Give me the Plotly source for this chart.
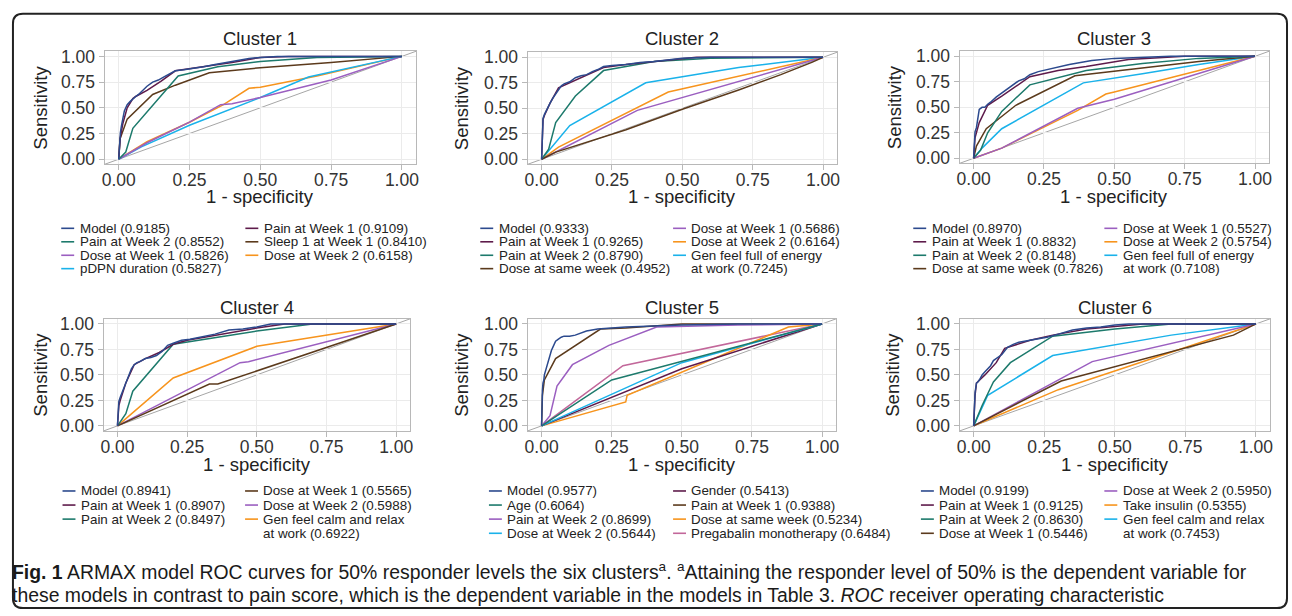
import plotly.graph_objects as go

# ---------------- DATA ----------------
TICKS = [0, 0.25, 0.5, 0.75, 1.0]
TICK_TEXT = ["0.00", "0.25", "0.50", "0.75", "1.00"]
CLUSTER_TITLES = ["Cluster 1", "Cluster 2", "Cluster 3", "Cluster 4", "Cluster 5", "Cluster 6"]

BLUE, MAROON, TEAL, BROWN = "#2C4A8E", "#5E1B4B", "#1D7A6C", "#5B3A1C"
PURPLE, ORANGE, LIGHTBLUE, PINK = "#9B5FC0", "#F7941D", "#1AB2EA", "#C2679A"

# Cluster 1
C1_NAMES = ["Model (0.9185)", "Pain at Week 2 (0.8552)", "Dose at Week 1 (0.5826)", "pDPN duration (0.5827)",
            "Pain at Week 1 (0.9109)", "Sleep 1 at Week 1 (0.8410)", "Dose at Week 2 (0.6158)"]
C1_COLORS = [BLUE, TEAL, PURPLE, LIGHTBLUE, MAROON, BROWN, ORANGE]
C1_COL1 = 4
C1_FPR = [
    [0, 0.003, 0.006, 0.01, 0.015, 0.02, 0.025, 0.03, 0.04, 0.05, 0.06, 0.07, 0.08, 0.09, 0.10, 0.12, 0.14, 0.16, 0.18, 0.20, 0.23, 0.26, 0.30, 0.34, 0.38, 0.42, 0.46, 0.50, 0.56, 1.0],
    [0, 0.025, 0.05, 0.21, 0.35, 0.5, 0.7, 1],
    [0, 0.1, 0.25, 0.36, 0.4, 0.5, 0.75, 1],
    [0, 0.08, 0.25, 0.5, 0.67, 1],
    [0, 0.005, 0.015, 0.03, 0.05, 0.06, 0.1, 0.15, 0.2, 0.3, 0.4, 0.5, 0.6, 1],
    [0, 0.005, 0.03, 0.12, 0.2, 0.32, 0.5, 0.75, 1],
    [0, 0.1, 0.25, 0.37, 0.46, 0.5, 0.7, 1],
]
C1_TPR = [
    [0, 0.18, 0.26, 0.33, 0.42, 0.47, 0.5, 0.53, 0.56, 0.59, 0.61, 0.63, 0.66, 0.69, 0.71, 0.75, 0.77, 0.8, 0.83, 0.86, 0.87, 0.88, 0.9, 0.92, 0.94, 0.96, 0.98, 0.99, 1.0, 1.0],
    [0, 0.07, 0.3, 0.81, 0.9, 0.95, 0.99, 1],
    [0, 0.16, 0.36, 0.53, 0.54, 0.6, 0.77, 1],
    [0, 0.12, 0.33, 0.6, 0.8, 1],
    [0, 0.2, 0.35, 0.5, 0.59, 0.61, 0.67, 0.76, 0.86, 0.9, 0.94, 0.99, 1, 1],
    [0, 0.2, 0.39, 0.63, 0.72, 0.84, 0.89, 0.94, 1],
    [0, 0.17, 0.36, 0.53, 0.69, 0.7, 0.81, 1],
]

# Cluster 2
C2_NAMES = ["Model (0.9333)", "Pain at Week 1 (0.9265)", "Pain at Week 2 (0.8790)", "Dose at same week (0.4952)",
            "Dose at Week 1 (0.5686)", "Dose at Week 2 (0.6164)", "Gen feel full of energy<br>at work (0.7245)"]
C2_COLORS = [BLUE, MAROON, TEAL, BROWN, PURPLE, ORANGE, LIGHTBLUE]
C2_COL1 = 4
C2_FPR = [
    [0, 0.002, 0.005, 0.01, 0.015, 0.02, 0.03, 0.04, 0.05, 0.06, 0.07, 0.08, 0.1, 0.12, 0.14, 0.16, 0.18, 0.2, 0.22, 0.25, 0.3, 0.35, 0.4, 0.5, 0.6, 1],
    [0, 0.005, 0.01, 0.03, 0.06, 0.1, 0.15, 0.22, 0.3, 0.45, 0.55, 1],
    [0, 0.025, 0.05, 0.12, 0.22, 0.4, 0.6, 1],
    [0, 0.05, 0.3, 0.5, 0.7, 0.85, 0.96, 1],
    [0, 0.07, 0.34, 1],
    [0, 0.06, 0.45, 1],
    [0, 0.1, 0.37, 0.7, 1],
]
C2_TPR = [
    [0, 0.3, 0.4, 0.44, 0.47, 0.5, 0.55, 0.6, 0.64, 0.69, 0.72, 0.74, 0.76, 0.8, 0.82, 0.83, 0.86, 0.88, 0.91, 0.92, 0.93, 0.95, 0.96, 0.99, 1, 1],
    [0, 0.39, 0.43, 0.55, 0.7, 0.75, 0.81, 0.9, 0.93, 0.97, 1, 1],
    [0, 0.1, 0.36, 0.62, 0.87, 0.96, 0.99, 1],
    [0, 0.07, 0.29, 0.49, 0.68, 0.83, 0.95, 1],
    [0, 0.1, 0.48, 1],
    [0, 0.12, 0.66, 1],
    [0, 0.33, 0.75, 0.9, 1],
]

# Cluster 3
C3_NAMES = ["Model (0.8970)", "Pain at Week 1 (0.8832)", "Pain at Week 2 (0.8148)", "Dose at same week (0.7826)",
            "Dose at Week 1 (0.5527)", "Dose at Week 2 (0.5754)", "Gen feel full of energy<br>at work (0.7108)"]
C3_COLORS = [BLUE, MAROON, TEAL, BROWN, PURPLE, ORANGE, LIGHTBLUE]
C3_COL1 = 4
C3_FPR = [
    [0, 0.002, 0.005, 0.01, 0.015, 0.02, 0.03, 0.04, 0.05, 0.06, 0.08, 0.1, 0.12, 0.14, 0.16, 0.18, 0.2, 0.23, 0.26, 0.3, 0.34, 0.38, 0.42, 0.5, 0.6, 0.7, 1],
    [0, 0.005, 0.02, 0.05, 0.1, 0.2, 0.3, 0.4, 0.55, 0.75, 1],
    [0, 0.025, 0.05, 0.1, 0.2, 0.4, 0.6, 0.8, 1],
    [0, 0.01, 0.045, 0.15, 0.36, 0.55, 0.8, 1],
    [0, 0.1, 0.37, 0.5, 1],
    [0, 0.1, 0.37, 0.47, 0.5, 1],
    [0, 0.03, 0.1, 0.39, 0.6, 0.8, 1],
]
C3_TPR = [
    [0, 0.22, 0.26, 0.3, 0.4, 0.48, 0.5, 0.5, 0.53, 0.55, 0.6, 0.64, 0.68, 0.72, 0.76, 0.78, 0.82, 0.85, 0.87, 0.9, 0.92, 0.94, 0.96, 0.98, 0.99, 1, 1],
    [0, 0.2, 0.35, 0.52, 0.61, 0.8, 0.86, 0.9, 0.97, 1, 1],
    [0, 0.08, 0.25, 0.46, 0.72, 0.86, 0.93, 0.98, 1],
    [0, 0.12, 0.29, 0.52, 0.81, 0.87, 0.95, 1],
    [0, 0.1, 0.49, 0.58, 1],
    [0, 0.1, 0.47, 0.63, 0.65, 1],
    [0, 0.1, 0.29, 0.74, 0.83, 0.92, 1],
]

# Cluster 4
C4_NAMES = ["Model (0.8941)", "Pain at Week 1 (0.8907)", "Pain at Week 2 (0.8497)",
            "Dose at Week 1 (0.5565)", "Dose at Week 2 (0.5988)", "Gen feel calm and relax<br>at work (0.6922)"]
C4_COLORS = [BLUE, MAROON, TEAL, BROWN, PURPLE, ORANGE]
C4_COL1 = 3
C4_FPR = [
    [0, 0.002, 0.005, 0.01, 0.02, 0.03, 0.04, 0.05, 0.06, 0.07, 0.08, 0.1, 0.12, 0.14, 0.16, 0.18, 0.2, 0.23, 0.26, 0.3, 0.35, 0.4, 0.45, 0.5, 0.55, 1],
    [0, 0.005, 0.01, 0.03, 0.06, 0.1, 0.15, 0.2, 0.25, 0.35, 0.5, 0.6, 1],
    [0, 0.03, 0.055, 0.2, 0.5, 0.7, 1],
    [0, 0.33, 0.36, 1],
    [0, 0.2, 0.44, 0.47, 1],
    [0, 0.2, 0.5, 1],
]
C4_TPR = [
    [0, 0.2, 0.24, 0.28, 0.35, 0.44, 0.5, 0.56, 0.6, 0.62, 0.63, 0.66, 0.67, 0.69, 0.73, 0.79, 0.81, 0.84, 0.85, 0.87, 0.9, 0.94, 0.95, 0.97, 1, 1],
    [0, 0.2, 0.25, 0.42, 0.6, 0.66, 0.72, 0.8, 0.84, 0.89, 0.96, 1, 1],
    [0, 0.12, 0.34, 0.8, 0.93, 1, 1],
    [0, 0.41, 0.41, 1],
    [0, 0.28, 0.62, 0.63, 1],
    [0, 0.47, 0.78, 1],
]

# Cluster 5
C5_NAMES = ["Model (0.9577)", "Age (0.6064)", "Pain at Week 2 (0.8699)", "Dose at Week 2 (0.5644)",
            "Gender (0.5413)", "Pain at Week 1 (0.9388)", "Dose at same week (0.5234)", "Pregabalin monotherapy (0.6484)"]
C5_COLORS = [BLUE, TEAL, PURPLE, LIGHTBLUE, MAROON, BROWN, ORANGE, PINK]
C5_COL1 = 4
C5_FPR = [
    [0, 0.001, 0.003, 0.005, 0.008, 0.01, 0.015, 0.02, 0.025, 0.03, 0.035, 0.04, 0.045, 0.05, 0.06, 0.07, 0.08, 0.1, 0.12, 0.14, 0.16, 0.2, 0.25, 0.3, 0.4, 0.5, 0.7, 1],
    [0, 0.25, 1],
    [0, 0.03, 0.055, 0.11, 0.24, 0.41, 0.7, 1],
    [0, 0.49, 0.5, 1],
    [0, 0.5, 1],
    [0, 0.003, 0.01, 0.05, 0.21, 0.3, 0.5, 1],
    [0, 0.1, 0.3, 0.305, 0.88, 0.92, 1],
    [0, 0.29, 1],
]
C5_TPR = [
    [0, 0.25, 0.35, 0.42, 0.45, 0.5, 0.55, 0.6, 0.65, 0.7, 0.74, 0.77, 0.8, 0.83, 0.85, 0.87, 0.88, 0.88, 0.89, 0.91, 0.93, 0.95, 0.96, 0.97, 0.98, 0.99, 1, 1],
    [0, 0.45, 1],
    [0, 0.1, 0.39, 0.6, 0.79, 0.97, 0.99, 1],
    [0, 0.6, 0.62, 1],
    [0, 0.56, 1],
    [0, 0.3, 0.45, 0.66, 0.95, 0.96, 1, 1],
    [0, 0.08, 0.235, 0.3, 0.97, 0.98, 1],
    [0, 0.59, 1],
]

# Cluster 6
C6_NAMES = ["Model (0.9199)", "Pain at Week 1 (0.9125)", "Pain at Week 2 (0.8630)", "Dose at Week 1 (0.5446)",
            "Dose at Week 2 (0.5950)", "Take insulin (0.5355)", "Gen feel calm and relax<br>at work (0.7453)"]
C6_COLORS = [BLUE, MAROON, TEAL, BROWN, PURPLE, ORANGE, LIGHTBLUE]
C6_COL1 = 4
C6_FPR = [
    [0, 0.002, 0.005, 0.01, 0.015, 0.02, 0.03, 0.04, 0.05, 0.06, 0.07, 0.08, 0.09, 0.1, 0.12, 0.14, 0.16, 0.18, 0.2, 0.23, 0.26, 0.3, 0.35, 0.4, 0.45, 0.5, 0.55, 1],
    [0, 0.005, 0.01, 0.04, 0.08, 0.11, 0.2, 0.28, 0.4, 0.6, 1],
    [0, 0.03, 0.07, 0.13, 0.28, 0.5, 0.7, 1],
    [0, 0.31, 0.92, 1],
    [0, 0.42, 1],
    [0, 0.3, 1],
    [0, 0.05, 0.28, 0.7, 1],
]
C6_TPR = [
    [0, 0.25, 0.33, 0.42, 0.43, 0.45, 0.5, 0.53, 0.56, 0.59, 0.64, 0.66, 0.68, 0.7, 0.77, 0.8, 0.82, 0.83, 0.84, 0.85, 0.87, 0.9, 0.94, 0.96, 0.97, 0.99, 1, 1],
    [0, 0.3, 0.42, 0.5, 0.62, 0.76, 0.84, 0.89, 0.95, 1, 1],
    [0, 0.2, 0.43, 0.62, 0.88, 0.95, 1, 1],
    [0, 0.44, 0.89, 1],
    [0, 0.63, 1],
    [0, 0.355, 1],
    [0, 0.3, 0.69, 0.89, 1],
]

CAPTION_LINE1 = ("<b>Fig. 1</b> ARMAX model ROC curves for 50% responder levels the six clusters<sup>a</sup>. "
                 "<sup>a</sup>Attaining the responder level of 50% is the dependent variable for")
CAPTION_LINE2 = ("these models in contrast to pain score, which is the dependent variable in the models in Table 3. "
                 "<i>ROC</i> receiver operating characteristic")

CLUSTERS = [
    (C1_NAMES, C1_COLORS, C1_COL1, C1_FPR, C1_TPR),
    (C2_NAMES, C2_COLORS, C2_COL1, C2_FPR, C2_TPR),
    (C3_NAMES, C3_COLORS, C3_COL1, C3_FPR, C3_TPR),
    (C4_NAMES, C4_COLORS, C4_COL1, C4_FPR, C4_TPR),
    (C5_NAMES, C5_COLORS, C5_COL1, C5_FPR, C5_TPR),
    (C6_NAMES, C6_COLORS, C6_COL1, C6_FPR, C6_TPR),
]

# ---------------- LAYOUT (pixels) ----------------
W, H = 1292, 616
FONT = "Liberation Sans, Arial, Helvetica, sans-serif"
TXT = "#333333"


def PX(x):
    return x / W


def PY(y):
    return 1 - y / H


# plot frames: (left, right, top, bottom)
FRAMES = [(102, 415, 47, 162), (527, 838, 48, 162), (961, 1272, 47, 161),
          (101, 409, 319, 433), (527, 837, 319, 433), (961, 1273, 319, 433)]
TITLE_Y = [34, 34, 34, 307, 307, 307]
XTITLE_Y = [194.5, 194.5, 194.5, 467, 467, 467]
YTITLE_X = [38, 460, 895, 38, 461, 894]
LEG_ROWS = [[227, 240.7, 254.4, 268]] * 3 + [[494, 508.3, 522.6, 537]] * 3
LEG_TEXT_X = [(77, 262), (498, 691.7), (933, 1125), (78.3, 261.7), (506.7, 691.7), (940.7, 1125)]

fig = go.Figure()
layout = dict(
    width=W, height=H, margin=dict(l=0, r=0, t=0, b=0),
    paper_bgcolor="white", plot_bgcolor="white", showlegend=False,
    font=dict(family=FONT, color=TXT),
)
annotations = []
shapes = []

for i, (names, colors, ncol1, fprs, tprs) in enumerate(CLUSTERS):
    k = i + 1
    xa = "x" if k == 1 else f"x{k}"
    ya = "y" if k == 1 else f"y{k}"
    l, r, t, b = FRAMES[i]
    axis_common = dict(
        range=[-0.05, 1.05], tickvals=TICKS, ticktext=TICK_TEXT,
        showgrid=True, gridcolor="#EBEBEB", gridwidth=1, zeroline=False,
        showline=True, mirror=True, linecolor="#B8B8B8", linewidth=1,
        ticks="outside", ticklen=5, tickcolor="#B8B8B8", tickwidth=1,
        tickfont=dict(family=FONT, size=17.5, color=TXT), fixedrange=True,
    )
    layout["xaxis" if k == 1 else f"xaxis{k}"] = dict(axis_common, domain=[PX(l), PX(r)], anchor=ya,
                                                      ticklabelstandoff=-5)
    layout["yaxis" if k == 1 else f"yaxis{k}"] = dict(axis_common, domain=[PY(b), PY(t)], anchor=xa)

    # chance diagonal across the panel
    shapes.append(dict(type="line", xref=f"{xa} domain", yref=f"{ya} domain", x0=0, y0=0, x1=1, y1=1,
                       line=dict(color="#A6A6A6", width=1), layer="below"))

    # ROC curves (model drawn last, on top)
    for j in reversed(range(len(names))):
        fig.add_trace(go.Scatter(x=fprs[j], y=tprs[j], mode="lines", name=names[j].replace("<br>", " "),
                                 line=dict(color=colors[j], width=1.5), xaxis=xa, yaxis=ya,
                                 hoverinfo="name"))

    cx = (l + r) / 2
    annotations.append(dict(text=CLUSTER_TITLES[i], x=PX(cx), y=PY(TITLE_Y[i]), xref="paper", yref="paper",
                            showarrow=False, xanchor="center", yanchor="middle",
                            font=dict(family=FONT, size=18.5, color="#222222")))
    annotations.append(dict(text="1 - specificity", x=PX(cx), y=PY(XTITLE_Y[i]), xref="paper", yref="paper",
                            showarrow=False, xanchor="center", yanchor="middle",
                            font=dict(family=FONT, size=18.5, color="#222222")))
    annotations.append(dict(text="Sensitivity", x=PX(YTITLE_X[i]), y=PY((t + b) / 2), xref="paper", yref="paper",
                            showarrow=False, xanchor="center", yanchor="middle", textangle=-90,
                            font=dict(family=FONT, size=18.5, color="#222222")))

    # legend (two columns)
    rows = LEG_ROWS[i]
    for col in range(2):
        idxs = range(0, ncol1) if col == 0 else range(ncol1, len(names))
        tx = LEG_TEXT_X[i][col]
        row = 0
        for j in idxs:
            shapes.append(dict(type="line", xref="paper", yref="paper",
                               x0=PX(tx - 18.5), x1=PX(tx - 5.5), y0=PY(rows[row]), y1=PY(rows[row]),
                               line=dict(color=colors[j], width=1.6)))
            for part in names[j].split("<br>"):
                annotations.append(dict(text=part, x=PX(tx - 2), y=PY(rows[row]), xref="paper", yref="paper",
                                        showarrow=False, xanchor="left", yanchor="middle",
                                        font=dict(family=FONT, size=13.4, color="#222222")))
                row += 1

# caption
annotations.append(dict(text=CAPTION_LINE1, x=PX(7), y=PY(575), xref="paper", yref="paper", showarrow=False,
                        xanchor="left", yanchor="middle", font=dict(family=FONT, size=19.4, color="#1A1A1A")))
annotations.append(dict(text=CAPTION_LINE2, x=PX(7), y=PY(600), xref="paper", yref="paper", showarrow=False,
                        xanchor="left", yanchor="middle", font=dict(family=FONT, size=19.4, color="#1A1A1A")))

# rounded outer border
bl, br, bt, bb, rad = 10, 1290, 9, 613, 10
path = (f"M {PX(bl)},{PY(bt + rad)} Q {PX(bl)},{PY(bt)} {PX(bl + rad)},{PY(bt)} "
        f"L {PX(br - rad)},{PY(bt)} Q {PX(br)},{PY(bt)} {PX(br)},{PY(bt + rad)} "
        f"L {PX(br)},{PY(bb - rad)} Q {PX(br)},{PY(bb)} {PX(br - rad)},{PY(bb)} "
        f"L {PX(bl + rad)},{PY(bb)} Q {PX(bl)},{PY(bb)} {PX(bl)},{PY(bb - rad)} Z")
shapes.append(dict(type="path", xref="paper", yref="paper", path=path, line=dict(color="#222222", width=2)))

layout["annotations"] = annotations
layout["shapes"] = shapes
fig.update_layout(**layout)
fig.write_html("out.html", config={"displayModeBar": False},
               post_script="document.body.style.margin='0';document.body.style.overflow='hidden';")
